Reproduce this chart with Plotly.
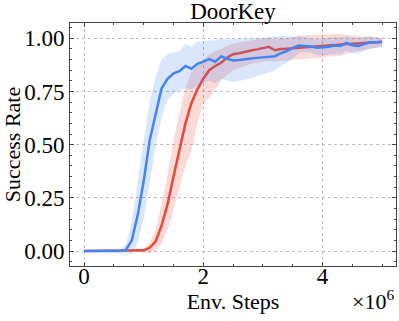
import plotly.graph_objects as go

# Environment steps (millions -> raw steps)
steps_m = [round(i * 0.1, 1) for i in range(51)]
steps = [s * 1e6 for s in steps_m]

blue_mean = [0, 0, 0, 0, 0, 0, 0, 0.005, 0.05, 0.17,
             0.33, 0.52, 0.65, 0.765, 0.81, 0.835, 0.845, 0.87, 0.857, 0.88,
             0.89, 0.902, 0.89, 0.915, 0.904, 0.896, 0.898, 0.90, 0.905, 0.908,
             0.91, 0.912, 0.916, 0.93, 0.94, 0.955, 0.966, 0.964, 0.962, 0.956,
             0.958, 0.96, 0.966, 0.964, 0.978, 0.967, 0.964, 0.972, 0.982, 0.981,
             0.984]
blue_upper = [0, 0, 0, 0, 0, 0, 0.003, 0.03, 0.14, 0.33,
              0.52, 0.70, 0.82, 0.90, 0.925, 0.935, 0.94, 0.975, 0.96, 0.985,
              0.985, 0.99, 0.99, 1.0, 0.995, 0.995, 0.998, 1.0, 1.0, 0.998,
              1.0, 1.005, 1.01, 1.012, 1.01, 1.01, 1.01, 1.005, 1.0, 0.998,
              0.998, 1.0, 1.005, 1.003, 1.01, 1.005, 1.002, 1.005, 1.008, 1.005,
              1.003]
blue_lower = [0, 0, 0, 0, 0, 0, -0.003, -0.01, -0.015, 0.04,
              0.15, 0.32, 0.50, 0.63, 0.71, 0.74, 0.755, 0.765, 0.76, 0.775,
              0.79, 0.80, 0.79, 0.81, 0.80, 0.795, 0.80, 0.805, 0.812, 0.82,
              0.83, 0.84, 0.85, 0.87, 0.885, 0.905, 0.93, 0.935, 0.932, 0.922,
              0.92, 0.922, 0.928, 0.925, 0.94, 0.93, 0.928, 0.94, 0.952, 0.955,
              0.96]

red_mean = [0, 0, 0, 0, 0, 0, 0, 0, 0, 0,
            0.003, 0.015, 0.045, 0.12, 0.22, 0.35, 0.47, 0.60, 0.695, 0.76,
            0.81, 0.85, 0.87, 0.885, 0.91, 0.925, 0.93, 0.938, 0.943, 0.948,
            0.953, 0.96, 0.944, 0.95, 0.951, 0.953, 0.954, 0.956, 0.958, 0.959,
            0.963, 0.966, 0.968, 0.971, 0.972, 0.974, 0.976, 0.978, 0.98, 0.982,
            0.983]
red_upper = [0, 0, 0, 0, 0, 0, 0, 0, 0, 0.003,
             0.01, 0.04, 0.10, 0.22, 0.36, 0.52, 0.65, 0.77, 0.84, 0.875,
             0.90, 0.925, 0.94, 0.95, 0.965, 0.975, 0.98, 0.985, 0.99, 0.995,
             1.0, 1.005, 0.995, 1.0, 1.0, 1.005, 1.01, 1.015, 1.015, 1.015,
             1.015, 1.018, 1.02, 1.02, 1.015, 1.015, 1.012, 1.01, 1.008, 1.005,
             1.0]
red_lower = [0, 0, 0, 0, 0, 0, 0, 0, 0, -0.003,
             -0.008, -0.01, 0.0, 0.035, 0.10, 0.19, 0.30, 0.40, 0.47, 0.60,
             0.69, 0.72, 0.76, 0.80, 0.83, 0.85, 0.86, 0.87, 0.88, 0.885,
             0.89, 0.895, 0.89, 0.895, 0.895, 0.90, 0.90, 0.902, 0.905, 0.905,
             0.91, 0.915, 0.915, 0.92, 0.925, 0.935, 0.94, 0.945, 0.95, 0.955,
             0.96]

x_tickvals = [0, 2e6, 4e6]
x_ticktext = ["0", "2", "4"]
y_tickvals = [0, 0.25, 0.5, 0.75, 1.0]

BLUE = "#4384F2"
RED = "#EC4637"
BLUE_FILL = "rgba(67,132,242,0.2)"
RED_FILL = "rgba(236,70,55,0.2)"
FONT = "Liberation Serif, Times New Roman, serif"

fig = go.Figure()


def add_series(mean, upper, lower, line_color, fill_color):
    fig.add_trace(go.Scatter(
        x=steps + steps[::-1], y=upper + lower[::-1],
        fill="toself", fillcolor=fill_color, line=dict(width=0),
        mode="lines", hoverinfo="skip", showlegend=False))
    fig.add_trace(go.Scatter(
        x=steps, y=mean, mode="lines",
        line=dict(color=line_color, width=2.5), showlegend=False))


add_series(red_mean, red_upper, red_lower, RED, RED_FILL)
add_series(blue_mean, blue_upper, blue_lower, BLUE, BLUE_FILL)

axis_common = dict(
    showline=True, linecolor="#444", linewidth=1, mirror="allticks",
    ticks="inside", ticklen=4, tickcolor="#444", tickwidth=1,
    showgrid=True, gridcolor="#bdbdbd", griddash="dot", gridwidth=1,
    zeroline=False, automargin=False,
    tickfont=dict(family=FONT, size=23, color="black"),
)

fig.update_xaxes(
    **axis_common,
    range=[-0.237e6, 5.233e6],
    tickvals=x_tickvals, ticktext=x_ticktext,
    ticklabelstandoff=-11,
    minor=dict(dtick=0.5e6, tick0=0, ticks="inside", ticklen=2,
               tickcolor="#444", showgrid=False),
    title=dict(text="Env. Steps", font=dict(family=FONT, size=22, color="black"),
               standoff=0),
)
fig.update_yaxes(
    **axis_common,
    range=[-0.0705, 1.072],
    tickvals=y_tickvals, tickformat=".2f",
    minor=dict(dtick=0.05, tick0=0, ticks="inside", ticklen=2,
               tickcolor="#444", showgrid=False),
    title=dict(text="Success Rate", font=dict(family=FONT, size=22, color="black"),
               standoff=2),
)

fig.add_annotation(
    text="×10<sup>6</sup>", xref="paper", yref="paper",
    x=1.0, y=-0.075, xanchor="right", yanchor="top", showarrow=False,
    font=dict(family=FONT, size=22, color="black"),
)

fig.update_layout(
    width=399, height=321,
    margin=dict(l=70, r=3, t=23, b=55),
    paper_bgcolor="white", plot_bgcolor="white",
    title=dict(text="DoorKey", x=0.5, xref="paper", xanchor="center",
               y=1 - 11 / 321, yref="container", yanchor="middle",
               font=dict(family=FONT, size=23, color="black")),
)

fig.write_html("out.html", config={"displayModeBar": False},
               post_script="document.body.style.margin='0';")
